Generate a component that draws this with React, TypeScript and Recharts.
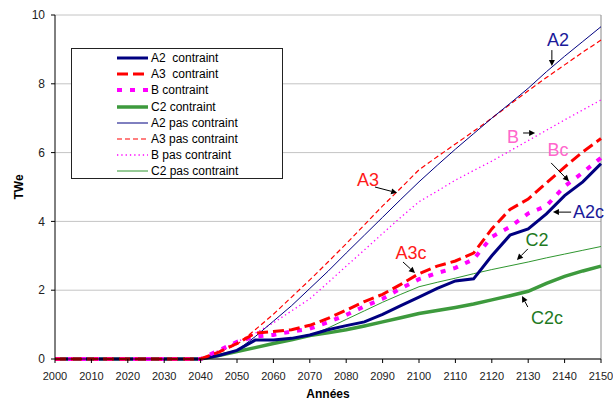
import React from "react";
import {
  LineChart,
  Line,
  XAxis,
  YAxis,
  CartesianGrid,
  Legend,
  ReferenceLine,
  ReferenceDot,
} from "recharts";

// Years (5-year steps)
const years = [
  2000, 2005, 2010, 2015, 2020, 2025, 2030, 2035, 2040, 2045, 2050, 2055, 2060,
  2065, 2070, 2075, 2080, 2085, 2090, 2095, 2100, 2105, 2110, 2115, 2120, 2125,
  2130, 2135, 2140, 2145, 2150,
];

// Installed power (TWe), constrained scenarios
const a2Contraint = [
  0, 0, 0, 0, 0, 0, 0, 0, 0, 0.1, 0.25, 0.55, 0.55, 0.6, 0.7, 0.85, 0.97, 1.08,
  1.3, 1.55, 1.8, 2.05, 2.27, 2.33, 3.0, 3.6, 3.78, 4.22, 4.75, 5.15, 5.68,
];
const a3Contraint = [
  0, 0, 0, 0, 0, 0, 0, 0, 0, 0.2, 0.45, 0.75, 0.8, 0.85, 0.98, 1.18, 1.42, 1.67,
  1.88, 2.17, 2.48, 2.7, 2.85, 3.08, 3.78, 4.35, 4.65, 5.12, 5.58, 6.02, 6.41,
];
const bContraint = [
  0, 0, 0, 0, 0, 0, 0, 0, 0, 0.25, 0.5, 0.65, 0.7, 0.8, 0.88, 1.07, 1.28, 1.53,
  1.75, 2.05, 2.32, 2.5, 2.65, 2.9, 3.55, 3.84, 4.23, 4.45, 5.02, 5.42, 5.85,
];
const c2Contraint = [
  0, 0, 0, 0, 0, 0, 0, 0, 0, 0.1, 0.22, 0.33, 0.45, 0.56, 0.68, 0.76, 0.85,
  0.96, 1.08, 1.2, 1.32, 1.41, 1.5, 1.6, 1.72, 1.84, 1.97, 2.2, 2.4, 2.56, 2.7,
];

// Unconstrained scenarios
const a2Pas = [
  0, 0, 0, 0, 0, 0, 0, 0, 0, 0.1, 0.25, 0.65, 1.1, 1.55, 2.05, 2.55, 3.08, 3.6,
  4.12, 4.64, 5.15, 5.63, 6.1, 6.55, 7.0, 7.43, 7.87, 8.35, 8.8, 9.23, 9.66,
];
const a3Pas = [
  0, 0, 0, 0, 0, 0, 0, 0, 0, 0.2, 0.42, 0.85, 1.3, 1.8, 2.3, 2.82, 3.35, 3.9,
  4.45, 4.97, 5.5, 5.88, 6.25, 6.62, 7.0, 7.4, 7.8, 8.18, 8.55, 8.92, 9.27,
];
const bPas = [
  0, 0, 0, 0, 0, 0, 0, 0, 0, 0.25, 0.5, 0.75, 1.05, 1.4, 1.75, 2.22, 2.7, 3.17,
  3.65, 4.12, 4.57, 4.88, 5.2, 5.48, 5.75, 6.05, 6.35, 6.65, 6.95, 7.24, 7.53,
];
const c2Pas = [
  0, 0, 0, 0, 0, 0, 0, 0, 0, 0.1, 0.22, 0.33, 0.45, 0.56, 0.68, 0.9, 1.15, 1.4,
  1.65, 1.88, 2.1, 2.23, 2.35, 2.48, 2.6, 2.71, 2.82, 2.94, 3.05, 3.16, 3.27,
];

const xTicks = [
  2000, 2010, 2020, 2030, 2040, 2050, 2060, 2070, 2080, 2090, 2100, 2110, 2120,
  2130, 2140, 2150,
];
const yTicks = [0, 2, 4, 6, 8, 10];

type Series = {
  key: string;
  name: string;
  values: number[];
  color: string;
  width: number;
  dash?: string;
};

// Drawing order: unconstrained first, constrained on top
const series: Series[] = [
  { key: "c2p", name: "C2 pas contraint", values: c2Pas, color: "#2f962f", width: 1 },
  { key: "bp", name: "B pas contraint", values: bPas, color: "#ff00ff", width: 1.3, dash: "1.3 3" },
  { key: "a3p", name: "A3 pas contraint", values: a3Pas, color: "#ff0000", width: 1.2, dash: "5 3" },
  { key: "a2p", name: "A2 pas contraint", values: a2Pas, color: "#000080", width: 1 },
  { key: "c2c", name: "C2 contraint", values: c2Contraint, color: "#3d9a3d", width: 3.5 },
  { key: "a2c", name: "A2  contraint", values: a2Contraint, color: "#000080", width: 3 },
  { key: "bc", name: "B contraint", values: bContraint, color: "#ff00ff", width: 4, dash: "5 8" },
  { key: "a3c", name: "A3  contraint", values: a3Contraint, color: "#ff0000", width: 3, dash: "11 5" },
];

const legendOrder = ["a2c", "a3c", "bc", "c2c", "a2p", "a3p", "bp", "c2p"];

const rows = years.map((year, i) => {
  const row: Record<string, number> = { year };
  series.forEach((s) => {
    row[s.key] = s.values[i];
  });
  return row;
});

// Callout labels and their arrows, in data coordinates
const callouts = [
  { text: "A2", color: "#1a1a9a", at: [2138.2, 9.27], from: [2136.5, 8.98], to: [2136.5, 8.52] },
  { text: "A3", color: "#ff1a1a", at: [2086, 5.2], from: [2087.9, 5.0], to: [2094, 4.83] },
  { text: "B", color: "#ff66cc", at: [2125.8, 6.45], from: [2128.6, 6.57], to: [2131.9, 6.57] },
  { text: "Bc", color: "#ff66cc", at: [2138.2, 6.08], from: [2136.3, 5.7], to: [2141.2, 5.17] },
  { text: "A2c", color: "#1a1a9a", at: [2146.6, 4.27], from: [2141.8, 4.27], to: [2136.8, 4.27] },
  { text: "C2", color: "#1f7a1f", at: [2132.4, 3.46], from: [2129.9, 3.2], to: [2126.9, 2.88] },
  { text: "C2c", color: "#1f7a1f", at: [2135.2, 1.19], from: [2129.9, 1.51], to: [2128.3, 1.83] },
  { text: "A3c", color: "#ff1a1a", at: [2097.8, 3.08], from: [2095.6, 2.82], to: [2098.9, 2.5] },
];

const FONT = '"Liberation Sans", Arial, Helvetica, sans-serif';

const Arrow = (props: any) => {
  const { x1, y1, x2, y2 } = props;
  if ([x1, y1, x2, y2].some((v) => typeof v !== "number" || isNaN(v))) return null;
  const dx = x2 - x1;
  const dy = y2 - y1;
  const len = Math.sqrt(dx * dx + dy * dy) || 1;
  const ux = dx / len;
  const uy = dy / len;
  const head = 6;
  const half = 3;
  const bx = x2 - ux * head;
  const by = y2 - uy * head;
  const pts = `${x2},${y2} ${bx - uy * half},${by + ux * half} ${bx + uy * half},${by - ux * half}`;
  return (
    <g>
      <line x1={x1} y1={y1} x2={bx} y2={by} stroke="#000" strokeWidth={1} />
      <polygon points={pts} fill="#000" />
    </g>
  );
};

const CalloutText = (text: string, color: string) => (props: any) => {
  const { cx, cy } = props;
  return (
    <text
      x={cx}
      y={cy}
      textAnchor="middle"
      dominantBaseline="central"
      fontFamily={FONT}
      fontSize={18}
      fill={color}
    >
      {text}
    </text>
  );
};

const LegendBox = () => {
  const byKey: Record<string, Series> = {};
  series.forEach((s) => (byKey[s.key] = s));
  return (
    <div
      style={{
        width: 212,
        height: 131,
        boxSizing: "border-box",
        border: "1px solid #222",
        background: "#fff",
        paddingTop: 1,
        fontFamily: FONT,
        fontSize: 12,
        color: "#000",
      }}
    >
      {legendOrder.map((k) => {
        const s = byKey[k];
        return (
          <div
            key={k}
            style={{ height: 16.2, display: "flex", alignItems: "center", whiteSpace: "pre" }}
          >
            <svg width={78} height={16} style={{ flex: "none" }}>
              <line
                x1={45}
                y1={8}
                x2={76}
                y2={8}
                stroke={s.color}
                strokeWidth={s.width}
                strokeDasharray={s.dash}
              />
            </svg>
            <span style={{ marginLeft: 1, whiteSpace: "pre" }}>{s.name}</span>
          </div>
        );
      })}
    </div>
  );
};

export default function App() {
  return (
    <div
      style={{
        position: "absolute",
        left: 0,
        top: 0,
        width: 613,
        height: 401,
        background: "#fff",
        overflow: "hidden",
      }}
    >
      <LineChart
        width={613}
        height={401}
        data={rows}
        margin={{ top: 15, right: 12, bottom: 0, left: 0 }}
        style={{ fontFamily: FONT }}
      >
        <CartesianGrid vertical={false} stroke="#c4c4c4" strokeWidth={1} />
        <XAxis
          dataKey="year"
          type="number"
          domain={[2000, 2150]}
          ticks={xTicks}
          interval={0}
          height={42}
          tickSize={4}
          tickMargin={9}
          axisLine={{ stroke: "#000" }}
          tickLine={{ stroke: "#000" }}
          tick={{ fill: "#222", fontSize: 11, fontFamily: FONT }}
          label={(p: any) => {
            const vb = p.viewBox || { x: 55, y: 359, width: 546, height: 42 };
            return (
              <text
                x={vb.x + vb.width / 2}
                y={vb.y + 39}
                textAnchor="middle"
                fontFamily={FONT}
                fontSize={12}
                fontWeight="bold"
                fill="#000"
              >
                Années
              </text>
            );
          }}
        />
        <YAxis
          type="number"
          domain={[0, 10]}
          ticks={yTicks}
          interval={0}
          width={55}
          tickSize={4}
          tickMargin={6}
          axisLine={{ stroke: "#000" }}
          tickLine={{ stroke: "#000" }}
          tick={{ fill: "#222", fontSize: 12, fontFamily: FONT }}
          label={(p: any) => {
            const vb = p.viewBox || { x: 0, y: 15, width: 55, height: 344 };
            const cx = vb.x + 19;
            const cy = vb.y + vb.height / 2;
            return (
              <text
                x={cx}
                y={cy}
                transform={`rotate(-90 ${cx} ${cy})`}
                textAnchor="middle"
                dominantBaseline="central"
                fontFamily={FONT}
                fontSize={12}
                fontWeight="bold"
                fill="#000"
              >
                TWe
              </text>
            );
          }}
        />
        <ReferenceLine x={2150} stroke="#8a8a8a" strokeWidth={1} />
        <Legend
          layout="vertical"
          align="center"
          verticalAlign="middle"
          wrapperStyle={{ left: 71, top: 48, width: 212, height: 131 }}
          content={() => <LegendBox />}
        />
        {series.map((s) => (
          <Line
            key={s.key}
            dataKey={s.key}
            name={s.name}
            type="linear"
            stroke={s.color}
            strokeWidth={s.width}
            strokeDasharray={s.dash}
            dot={false}
            activeDot={false}
            isAnimationActive={false}
          />
        ))}
        {callouts.map((c) => (
          <ReferenceLine
            key={`arrow-${c.text}`}
            segment={[
              { x: c.from[0], y: c.from[1] },
              { x: c.to[0], y: c.to[1] },
            ]}
            ifOverflow="visible"
            shape={Arrow}
          />
        ))}
        {callouts.map((c) => (
          <ReferenceDot
            key={`label-${c.text}`}
            x={c.at[0]}
            y={c.at[1]}
            r={0}
            ifOverflow="visible"
            shape={CalloutText(c.text, c.color)}
          />
        ))}
      </LineChart>
    </div>
  );
}
